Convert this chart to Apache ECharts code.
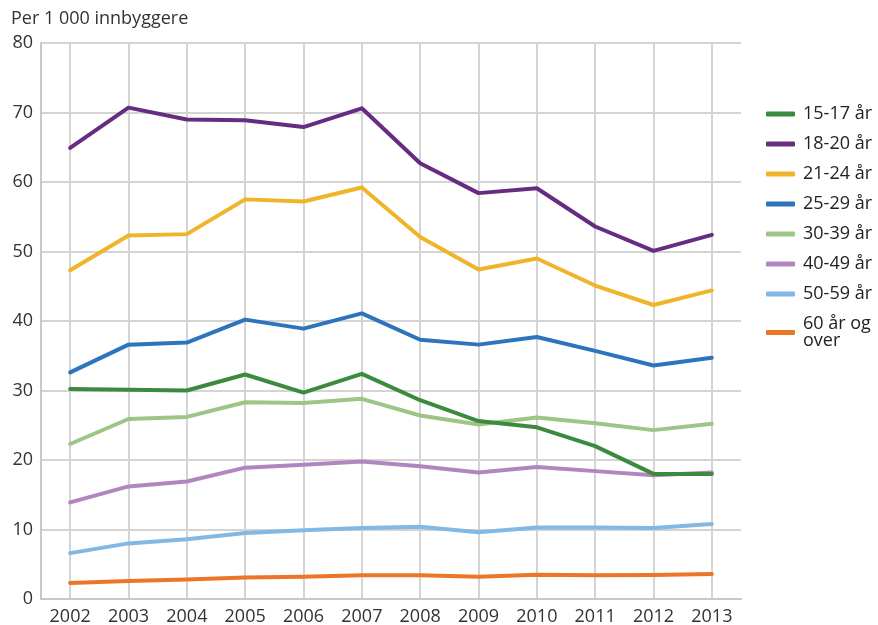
<!DOCTYPE html>
<html>
<head>
<meta charset="utf-8">
<script src="https://cdn.jsdelivr.net/npm/echarts@6/dist/echarts.min.js"></script>
<style>
  html, body { margin: 0; padding: 0; background: #fff; }
  #chart { width: 878px; height: 625px; }
</style>
</head>
<body>
<div id="chart"></div>
<script>
const years = ['2002', '2003', '2004', '2005', '2006', '2007', '2008', '2009', '2010', '2011', '2012', '2013']
const yTicks = [0, 10, 20, 30, 40, 50, 60, 70, 80]

const age1517 = [30.2, 30.1, 30.0, 32.3, 29.7, 32.4, 28.6, 25.6, 24.7, 22.0, 18.0, 18.0]
const age1820 = [64.9, 70.7, 69.0, 68.9, 67.9, 70.6, 62.7, 58.4, 59.1, 53.6, 50.1, 52.4]
const age2124 = [47.3, 52.3, 52.5, 57.5, 57.2, 59.2, 52.1, 47.4, 49.0, 45.1, 42.3, 44.4]
const age2529 = [32.6, 36.6, 36.9, 40.2, 38.9, 41.1, 37.3, 36.6, 37.7, 35.7, 33.6, 34.7]
const age3039 = [22.3, 25.9, 26.2, 28.3, 28.2, 28.8, 26.4, 25.1, 26.1, 25.3, 24.3, 25.2]
const age4049 = [13.9, 16.2, 16.9, 18.9, 19.3, 19.8, 19.1, 18.2, 19.0, 18.4, 17.8, 18.2]
const age5059 = [6.6, 8.0, 8.6, 9.5, 9.9, 10.2, 10.4, 9.6, 10.3, 10.3, 10.2, 10.8]
const age60 = [2.3, 2.6, 2.8, 3.1, 3.2, 3.4, 3.4, 3.2, 3.5, 3.4, 3.45, 3.6]

const names = ['15-17 år', '18-20 år', '21-24 år', '25-29 år', '30-39 år', '40-49 år', '50-59 år', '60 år og\nover']
const colors = ['#3b8a3e', '#662c82', '#f0b428', '#2d74bd', '#9dc686', '#b385bf', '#82b8e4', '#ec7627']
const values = [age1517, age1820, age2124, age2529, age3039, age4049, age5059, age60]

const font = '"Open Sans", "Noto Sans", sans-serif'
const chart = echarts.init(document.getElementById('chart'))

const series = names.map((n, i) => ({
  name: n,
  type: 'line',
  data: values[i],
  symbol: 'none',
  lineStyle: { width: 4, color: colors[i], cap: 'round', join: 'round' },
  itemStyle: { color: colors[i] },
  z: 10 - (i === 0 ? -5 : i)
}))

chart.setOption({
  animation: false,
  backgroundColor: '#fff',
  textStyle: { fontFamily: font },
  title: {
    text: 'Per 1 000 innbyggere',
    left: 11,
    top: 10,
    padding: 0,
    textStyle: { fontSize: 18, fontWeight: 'normal', color: '#333', fontFamily: font }
  },
  legend: {
    orient: 'vertical',
    left: 766,
    top: 105,
    padding: 0,
    icon: 'roundRect',
    itemWidth: 29,
    itemHeight: 5,
    itemGap: 12,
    textStyle: { fontSize: 18, color: '#222', fontFamily: font, lineHeight: 17, padding: [0, 0, 0, 3] },
    data: names
  },
  grid: { left: 41, top: 43, right: 137, bottom: 26, containLabel: false, outerBoundsMode: 'none' },
  xAxis: {
    type: 'category',
    data: years,
    boundaryGap: true,
    axisLine: { lineStyle: { color: '#c8c8c8', width: 2 } },
    axisTick: { show: false },
    axisLabel: { fontSize: 18, color: '#333', margin: 9, fontFamily: font },
    splitLine: { show: true, alignWithLabel: true, lineStyle: { color: '#d4d4d4', width: 2 } }
  },
  yAxis: {
    type: 'value',
    min: yTicks[0],
    max: yTicks[yTicks.length - 1],
    interval: 10,
    axisLine: { show: true, lineStyle: { color: '#c8c8c8', width: 2 } },
    axisTick: { show: false },
    axisLabel: { fontSize: 18, color: '#333', margin: 8, fontFamily: font },
    splitLine: { lineStyle: { color: '#d4d4d4', width: 2 } }
  },
  series: series
})
</script>
</body>
</html>
